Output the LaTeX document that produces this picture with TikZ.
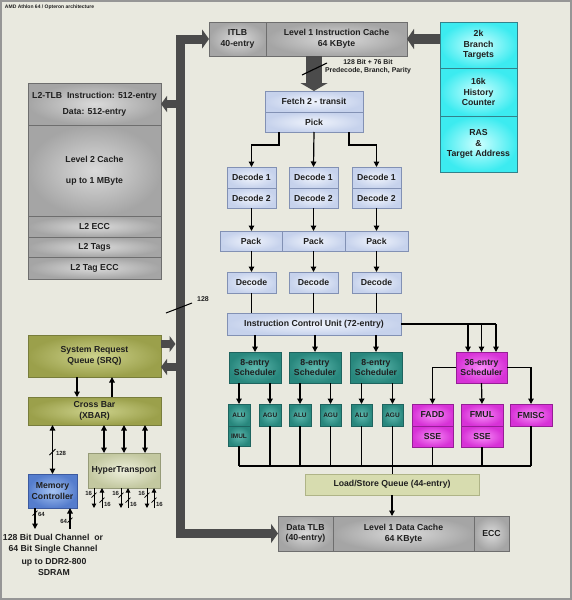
\documentclass[tikz,border=0pt]{standalone}
\usepackage{fontspec}
\setmainfont{Liberation Sans}
\usetikzlibrary{arrows.meta,calc}
\definecolor{bg}{RGB}{233,233,223}
\definecolor{framec}{RGB}{150,150,150}
\definecolor{busc}{RGB}{75,75,75}
\definecolor{grayIn}{RGB}{218,218,218}
\definecolor{grayOut}{RGB}{165,165,165}
\definecolor{grayBd}{RGB}{110,110,110}
\definecolor{blueIn}{RGB}{240,244,252}
\definecolor{blueOut}{RGB}{198,210,236}
\definecolor{blueBd}{RGB}{130,145,180}
\definecolor{tealIn}{RGB}{95,185,175}
\definecolor{tealOut}{RGB}{40,135,125}
\definecolor{tealBd}{RGB}{30,100,95}
\definecolor{magIn}{RGB}{248,140,248}
\definecolor{magOut}{RGB}{215,50,215}
\definecolor{magBd}{RGB}{150,30,150}
\definecolor{cyanIn}{RGB}{205,255,255}
\definecolor{cyanOut}{RGB}{60,235,240}
\definecolor{cyanBd}{RGB}{50,130,140}
\definecolor{oliveIn}{RGB}{205,210,140}
\definecolor{oliveOut}{RGB}{155,160,75}
\definecolor{oliveBd}{RGB}{120,125,60}
\definecolor{htIn}{RGB}{238,240,220}
\definecolor{htOut}{RGB}{195,200,160}
\definecolor{htBd}{RGB}{150,155,120}
\definecolor{lsqc}{RGB}{215,220,175}
\definecolor{lsqBd}{RGB}{175,180,135}
\definecolor{mcIn}{RGB}{165,195,242}
\definecolor{mcOut}{RGB}{85,125,205}
\definecolor{mcBd}{RGB}{60,90,160}
\newcommand\bx[7]{\node[#2, minimum width=#5-#3, minimum height=#6-#4, anchor=north west] (#1) at (#3,#4) {#7};}
\newcommand\tick[2]{\draw[line width=0.8pt] (#1-3,#2+3) -- (#1+3,#2-3);}
\begin{document}
\begin{tikzpicture}[x=1pt,y=-1pt,
  every node/.style={font=\fontsize{8.7}{10.7}\selectfont\bfseries, inner sep=0pt, outer sep=0pt, align=center, text=black!88},
  box/.style={draw, line width=0.6pt, rectangle},
  gbox/.style={box, draw=grayBd, inner color=grayIn, outer color=grayOut},
  bbox/.style={box, draw=blueBd, inner color=blueIn, outer color=blueOut},
  tbox/.style={box, draw=tealBd, inner color=tealIn, outer color=tealOut},
  ubox/.style={tbox, font=\fontsize{6.5}{8}\selectfont\bfseries},
  mbox/.style={box, draw=magBd, inner color=magIn, outer color=magOut},
  cbox/.style={box, draw=cyanBd, inner color=cyanIn, outer color=cyanOut},
  obox/.style={box, draw=oliveBd, inner color=oliveIn, outer color=oliveOut},
  hbox/.style={box, draw=htBd, inner color=htIn, outer color=htOut},
  lbox/.style={box, draw=lsqBd, fill=lsqc},
  membox/.style={box, draw=mcBd, inner color=mcIn, outer color=mcOut},
  small/.style={font=\fontsize{6}{7}\selectfont\bfseries},
  ln/.style={line width=1.2pt},
  arr/.style={line width=1.2pt, -{Triangle[length=5.5pt,width=5.5pt]}},
  darr/.style={line width=1.2pt, {Triangle[length=5.5pt,width=5.5pt]}-{Triangle[length=5.5pt,width=5.5pt]}},
  sarr/.style={line width=1pt, -{Triangle[length=4.5pt,width=4.5pt]}},
  bigarr/.style={draw=busc, line width=8pt, -{Triangle[length=6pt,width=16pt]}},
  bus/.style={draw=busc, line width=9pt, line join=miter, {Triangle[length=7pt,width=19pt]}-{Triangle[length=7pt,width=19pt]}}
]
\fill[bg] (0,0) rectangle (572,600);
\useasboundingbox (0,0) rectangle (572,600);
\draw[framec, line width=1.5pt] (1,1) rectangle (571,599);

\node[anchor=west, font=\fontsize{5}{6}\selectfont\bfseries] (title) at (5,7) {AMD Athlon 64 / Opteron architecture};

% top
\bx{itlb}{gbox}{209}{22}{266}{56}{ITLB\\40-entry}
\bx{l1i}{gbox}{266}{22}{407}{56}{Level 1 Instruction Cache\\64 KByte}
\bx{bpA}{cbox}{440}{22}{517}{68}{2k\\Branch\\Targets}
\bx{bpB}{cbox}{440}{68}{517}{116}{16k\\History\\Counter}
\bx{bpC}{cbox}{440}{116}{517}{172}{RAS\\\&\\Target Address}

\bx{fetch}{bbox}{265}{91}{363}{112}{Fetch 2 - transit}
\bx{pick}{bbox}{265}{112}{363}{132}{Pick}

\bx{dA1}{bbox}{227}{167}{276}{188}{Decode 1}
\bx{dA2}{bbox}{227}{188}{276}{208}{Decode 2}
\bx{dB1}{bbox}{289}{167}{338}{188}{Decode 1}
\bx{dB2}{bbox}{289}{188}{338}{208}{Decode 2}
\bx{dC1}{bbox}{352}{167}{401}{188}{Decode 1}
\bx{dC2}{bbox}{352}{188}{401}{208}{Decode 2}

\bx{pkA}{bbox}{220}{231}{282}{251}{Pack}
\bx{pkB}{bbox}{282}{231}{345}{251}{Pack}
\bx{pkC}{bbox}{345}{231}{408}{251}{Pack}

\bx{dcA}{bbox}{227}{272}{276}{293}{Decode}
\bx{dcB}{bbox}{289}{272}{338}{293}{Decode}
\bx{dcC}{bbox}{352}{272}{401}{293}{Decode}

\bx{icu}{bbox}{227}{313}{401}{335}{Instruction Control Unit (72-entry)}

\bx{sA}{tbox}{229}{352}{281}{383}{8-entry\\Scheduler}
\bx{sB}{tbox}{289}{352}{341}{383}{8-entry\\Scheduler}
\bx{sC}{tbox}{350}{352}{402}{383}{8-entry\\Scheduler}
\bx{fpS}{mbox}{456}{352}{507}{383}{36-entry\\Scheduler}

\bx{aluA}{ubox}{228}{404}{250}{426}{ALU}
\bx{imul}{ubox}{228}{426}{250}{446}{IMUL}
\bx{aguA}{ubox}{259}{404}{281}{426}{AGU}
\bx{aluB}{ubox}{289}{404}{311}{426}{ALU}
\bx{aguB}{ubox}{320}{404}{341}{426}{AGU}
\bx{aluC}{ubox}{351}{404}{372}{426}{ALU}
\bx{aguC}{ubox}{382}{404}{403}{426}{AGU}
\bx{fadd}{mbox}{412}{404}{453}{426}{FADD}
\bx{sse1}{mbox}{412}{426}{453}{447}{SSE}
\bx{fmul}{mbox}{461}{404}{503}{426}{FMUL}
\bx{sse2}{mbox}{461}{426}{503}{447}{SSE}
\bx{fmisc}{mbox}{510}{404}{552}{426}{FMISC}

\bx{lsq}{lbox}{305}{474}{479}{495}{Load/Store Queue (44-entry)}
\bx{dtlb}{gbox}{278}{516}{333}{551}{Data TLB\\(40-entry)}
\bx{l1d}{gbox}{333}{516}{474}{551}{Level 1 Data Cache\\64 KByte}
\bx{ecc}{gbox}{474}{516}{509}{551}{ECC}

% left
\bx{l2tlb}{gbox,font=\fontsize{8.7}{16}\selectfont\bfseries}{28}{83}{161}{125}{L2-TLB\ \ Instruction: 512-entry\\Data: 512-entry}
\bx{l2c}{gbox,font=\fontsize{8.7}{21}\selectfont\bfseries}{28}{125}{161}{216}{Level 2 Cache\\up to 1 MByte}
\bx{l2ecc}{gbox}{28}{216}{161}{237}{L2 ECC}
\bx{l2tags}{gbox}{28}{237}{161}{257}{L2 Tags}
\bx{l2tagecc}{gbox}{28}{257}{161}{279}{L2 Tag ECC}

\bx{srq}{obox}{28}{335}{161}{377}{System Request\\Queue (SRQ)}
\bx{xbar}{obox}{28}{397}{161}{425}{Cross Bar\\(XBAR)}
\bx{ht}{hbox}{88}{453}{160}{488}{HyperTransport}
\bx{mc}{membox}{28}{474}{77}{508}{Memory\\Controller}

\node[font=\fontsize{8.7}{11}\selectfont\bfseries] (memtxt1) at (53,543.5) {128 Bit Dual Channel\ \ or\\64 Bit Single Channel};
\node[font=\fontsize{8.7}{10.5}\selectfont\bfseries] (memtxt2) at (54,567) {up to DDR2-800\\SDRAM};

% big bus
\coordinate (busx) at (180,0);
\coordinate (busL) at (175.5,0);
\draw[bus] (itlb.west) -| (busx |- dtlb.west) -- (dtlb.west);
\draw[bigarr] (l2tlb.east -| busx) -- (l2tlb.east);
\coordinate (sr1) at ([yshift=12]srq.east);
\coordinate (sr2) at ([yshift=-11]srq.east);
\draw[bigarr] (sr1) -- (sr1 -| busL);
\draw[bigarr] (sr2 -| busL) -- (sr2);
\draw[line width=1pt] (166,313) -- (192,303);
\node[small, font=\fontsize{7}{8}\selectfont\bfseries] (l128) at (203,299) {128};

% branch to icache
\draw[draw=busc, line width=10pt, -{Triangle[length=7pt,width=20pt]}] (l1i.east -| bpA.west) -- (l1i.east);
% icache to fetch
\draw[draw=busc, line width=16pt, -{Triangle[length=8pt,width=27pt]}] (fetch.north |- l1i.south) -- (fetch.north);
\draw[line width=1.1pt] (302,75) -- (327,63);
\node[font=\fontsize{6.9}{8}\selectfont\bfseries] (bits) at (368,67) {128 Bit + 76 Bit\\Predecode, Branch, Parity};

% pick to decoders
\coordinate (pL) at ([xshift=-35]pick.south);
\coordinate (pR) at ([xshift=35]pick.south);
\draw[arr] (pL) -- ++(0,13) -| (dA1.north);
\draw[arr] (pick.south) -- (dB1.north);
\draw[arr] (pR) -- ++(0,13) -| (dC1.north);

\foreach \d/\p/\c in {dA2/pkA/dcA, dB2/pkB/dcB, dC2/pkC/dcC}{
  \draw[arr] (\d.south) -- (\d.south |- \p.north);
  \draw[arr] (\c.north |- \p.south) -- (\c.north);
  \draw[ln] (\c.south) -- (\c.south |- icu.north);
}
\foreach \s in {sA,sB,sC}{
  \draw[arr] (\s.north |- icu.south) -- (\s.north);
}
\foreach \u/\s in {aluA/sA, aguA/sA, aluB/sB, aguB/sB, aluC/sC, aguC/sC}{
  \draw[arr] (\u.north |- \s.south) -- (\u.north);
}

% ICU to FP scheduler
\coordinate (f1) at ([xshift=-13.5]fpS.north);
\coordinate (f2) at (fpS.north);
\coordinate (f3) at ([xshift=14.5]fpS.north);
\draw[ln] (icu.east) -- (f3 |- icu.east);
\draw[arr] (f1 |- icu.east) -- (f1);
\draw[arr] (f2 |- icu.east) -- (f2);
\draw[arr] (f3 |- icu.east) -- (f3);
\draw[arr] (fpS.west) -| (fadd.north);
\draw[arr] (fpS.south) -- (fmul.north);
\draw[arr] (fpS.east) -| (fmisc.north);

% result bus
\coordinate (rb) at (0,466);
\draw[ln] (imul.south |- rb) -- (fmisc.south |- rb);
\foreach \n in {imul,aguA,aluB,aguB,aluC,sse1,sse2,fmisc}{
  \draw[ln] (\n.south) -- (\n.south |- rb);
}
\draw[ln] (aguC.south) -- (aguC.south |- lsq.north);
\draw[arr] (lsq.south) -- (lsq.south |- dtlb.north);

% SRQ / XBAR
\draw[arr] ([xshift=-17.5]srq.south) -- ([xshift=-17.5]xbar.north);
\draw[arr] ([xshift=17.5]xbar.north) -- ([xshift=17.5]srq.south);
\draw[darr] (mc.north) -- (mc.north |- xbar.south);
\tick{52.5}{452}
\node[small, anchor=west] (t128) at (56,453) {128};
\foreach \o in {-20,0,21}{
  \draw[darr] ([xshift=\o]ht.north) -- ([xshift=\o]ht.north |- xbar.south);
}

% HT links
\foreach \d/\u [count=\i] in {-30/-22, -3/4, 23/30}{
  \coordinate (hd\i) at ([xshift=\d]ht.south);
  \coordinate (hu\i) at ([xshift=\u]ht.south);
  \draw[sarr] (hd\i) -- ++(0,20);
  \draw[sarr] ($(hu\i)+(0,20)$) -- (hu\i);
  \draw[line width=0.7pt] ($(hd\i)+(-2.5,9.5)$) -- ($(hd\i)+(2.5,4.5)$);
  \draw[line width=0.7pt] ($(hu\i)+(-2.5,14.5)$) -- ($(hu\i)+(2.5,9.5)$);
  \node[small, anchor=east] (hl\i) at ($(hd\i)+(-2,5)$) {16};
  \node[small, anchor=west] (hr\i) at ($(hu\i)+(2,16)$) {16};
}

% memory links
\coordinate (m1) at ([xshift=-17.5]mc.south);
\coordinate (m2) at ([xshift=17.5]mc.south);
\draw[arr] (m1) -- ++(0,21);
\draw[arr] ($(m2)+(0,21)$) -- (m2);
\draw[line width=0.7pt] ($(m1)+(-2.5,7.5)$) -- ($(m1)+(2.5,2.5)$);
\draw[line width=0.7pt] ($(m2)+(-2.5,14.5)$) -- ($(m2)+(2.5,9.5)$);
\node[small, anchor=west] (ml) at ($(m1)+(3,6)$) {64};
\node[small, anchor=east] (mr) at ($(m2)+(-3,13)$) {64};
\end{tikzpicture}
\end{document}
